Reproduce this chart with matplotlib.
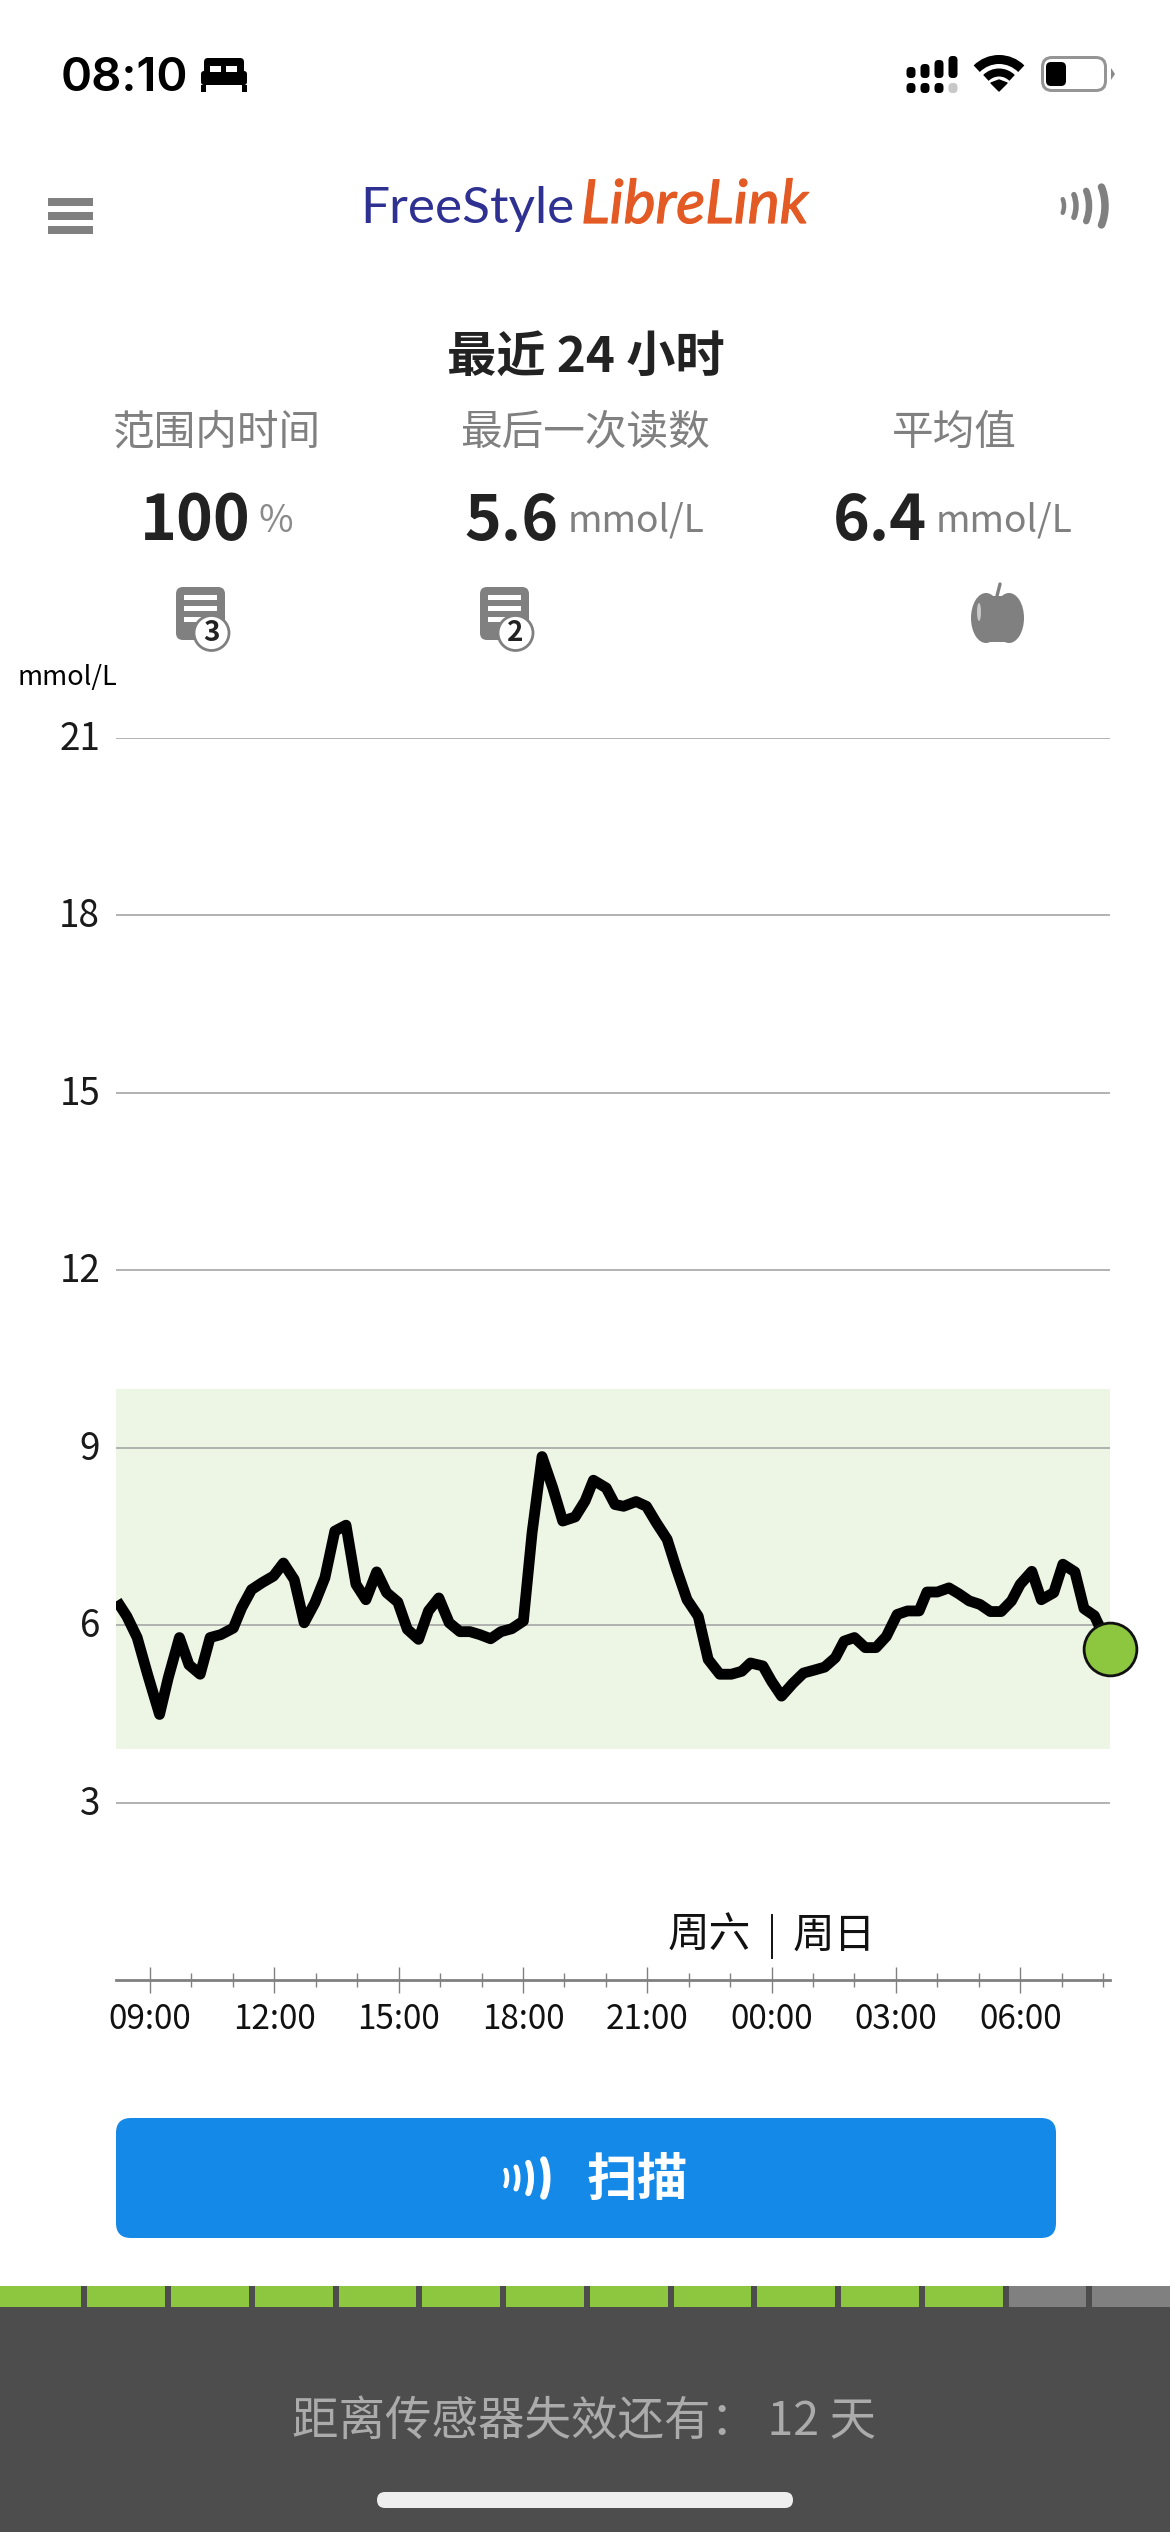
import matplotlib
matplotlib.use("Agg")
import matplotlib.pyplot as plt
import matplotlib.patheffects as pe
from matplotlib.patches import FancyBboxPatch, Rectangle, Circle, Arc, Ellipse, Polygon
from matplotlib.transforms import ScaledTranslation

plt.rcParams['font.family'] = ['Noto Sans CJK SC', 'DejaVu Sans']

# ---------- data ----------
hours = [8.20,8.44,8.69,8.94,9.23,9.44,9.71,9.94,10.21,10.45,10.71,11.01,11.21,11.45,11.71,11.98,
         12.22,12.48,12.72,12.98,13.22,13.46,13.73,13.97,14.21,14.47,14.71,14.98,15.21,15.48,15.72,15.97,
         16.22,16.48,16.72,16.96,17.22,17.47,17.73,18.01,18.22,18.46,18.72,18.96,19.26,19.50,19.70,20.01,20.22,
         20.43,20.73,20.98,21.22,21.48,21.71,21.96,22.23,22.47,22.75,23.03,23.28,23.49,23.79,24.00,24.24,24.52,
         24.77,25.03,25.28,25.54,25.75,26.00,26.26,26.52,26.77,27.03,27.28,27.56,27.75,28.00,28.28,28.52,28.77,
         29.03,29.28,29.54,29.79,30.00,30.28,30.51,30.81,31.03,31.32,31.54,31.79,32.17]
glucose = [6.41,6.15,5.79,5.17,4.49,5.11,5.79,5.33,5.17,5.79,5.84,5.95,6.29,6.60,6.72,6.83,
           7.05,6.77,6.04,6.38,6.80,7.59,7.69,6.69,6.43,6.90,6.55,6.39,5.93,5.76,6.24,6.46,
           6.04,5.89,5.89,5.84,5.77,5.89,5.94,6.07,7.56,8.85,8.32,7.76,7.83,8.10,8.45,8.32,8.04,
           8.01,8.09,8.01,7.73,7.45,6.94,6.43,6.15,5.42,5.17,5.17,5.22,5.36,5.31,5.05,4.80,5.02,
           5.19,5.24,5.29,5.45,5.73,5.79,5.62,5.62,5.81,6.18,6.24,6.24,6.56,6.56,6.63,6.53,6.41,
           6.35,6.23,6.23,6.41,6.69,6.91,6.43,6.55,7.03,6.90,6.28,6.16,5.60]
y_ticks = [3, 6, 9, 12, 15, 18, 21]
x_major = [9, 12, 15, 18, 21, 24, 27, 30]
x_minor = [10,11,13,14,16,17,19,20,22,23,25,26,28,29,31,32]
x_labels = ['09:00','12:00','15:00','18:00','21:00','00:00','03:00','06:00']
target_low, target_high = 3.9, 10
x_start, x_end = 8.167, 32.167
y_max = 21
sensor_days_total = 14
sensor_days_left = 12

W, H = 1170, 2532
GRAY = '#808080'
fig = plt.figure(figsize=(W/100, H/100), dpi=100, facecolor='white')
ui = fig.add_axes([0, 0, 1, 1], zorder=0)
ui.set_xlim(0, W); ui.set_ylim(H, 0); ui.axis('off')

def rrect(x0, y0, x1, y1, r, color, z=1):
    ui.add_patch(FancyBboxPatch((x0+r, y0+r), x1-x0-2*r, y1-y0-2*r,
                 boxstyle=f'round,pad={r},rounding_size={r}', fc=color, ec='none', zorder=z))

def waves(xs, hs, lws, cy, color):
    for xa, h, lw in zip(xs, hs, lws):
        b = h/1.73; a = b*0.5
        ui.add_patch(Arc((xa-a, cy), 2*a, 2*b, theta1=-60, theta2=60, color=color,
                         lw=lw*0.72, capstyle='round', zorder=3))

# ---------- status bar ----------
ui.text(61, 91, '08:10', family='Inter', fontsize=34, weight='semibold', color='black', va='baseline')
rrect(201, 71, 247, 85, 3, 'black')
rrect(204, 58, 244, 74, 4, 'black')
ui.add_patch(Rectangle((210, 66), 11, 6, fc='white', ec='none', zorder=2))
ui.add_patch(Rectangle((226, 66), 11, 6, fc='white', ec='none', zorder=2))
ui.add_patch(Rectangle((201, 85), 5, 7, fc='black', ec='none'))
ui.add_patch(Rectangle((242, 85), 5, 7, fc='black', ec='none'))
for xc, top in [(911, 67), (925, 64), (939, 60), (953, 56)]:
    rrect(xc-4.5, top, xc+4.5, 78, 4, 'black')
for xc, col in [(911, 'black'), (925, 'black'), (939, 'black'), (953, '#c8c8c8')]:
    rrect(xc-4.5, 83, xc+4.5, 93, 4, col)
ui.add_patch(Polygon([[999, 91], [991, 83], [999, 80], [1007, 83]], closed=True, fc='black', ec='black', lw=1, joinstyle='round'))
for r, lw in [(18.5, 8), (31.5, 9)]:
    ui.add_patch(Arc((999, 91), 2*r, 2*r, theta1=225, theta2=315, color='black', lw=lw*0.72, capstyle='butt'))
rrect(1041, 56, 1107, 92, 11, '#959595')
rrect(1044, 59, 1104, 89, 8, 'white', z=2)
rrect(1046, 62, 1066, 86, 5, 'black', z=3)
ui.add_patch(Polygon([[1111, 68], [1115, 74], [1111, 80]], closed=True, fc='#8a8a8a', ec='none'))

# ---------- header ----------
for y0 in (198, 212, 226):
    ui.add_patch(Rectangle((48, y0), 45, 8, fc=GRAY, ec='none'))
ui.text(360, 223, 'FreeStyle', family='Lato', fontsize=37, color='#2E3191', va='baseline')
ui.text(581, 223, 'LibreLink', family='Lato', style='italic', fontsize=43.5, color='#E35A24', va='baseline',
        path_effects=[pe.withStroke(linewidth=0.9, foreground='#E35A24')])
waves([1064, 1076, 1089, 1105], [18, 30, 40, 50], [4.5, 5.5, 6.5, 7.5], 206, GRAY)

ui.text(586, 357, '最近 24 小时', fontsize=35.5, weight='bold', color='#222222', ha='center', va='center')
for xc, s in [(217, '范围内时间'), (585, '最后一次读数'), (954, '平均值')]:
    ui.text(xc, 433, s, fontsize=30, color=GRAY, ha='center', va='center')
for x0, s in [(140, '100'), (464, '5.6'), (833, '6.4')]:
    ui.text(x0, 540, s, fontsize=45, weight='bold', color='#222222', va='baseline')
ui.text(259, 532, '%', fontsize=27, color='#8a8a8a', va='baseline', weight='light')
for x0 in (568, 936):
    ui.text(x0, 532, 'mmol/L', fontsize=26.8, color='#808080', va='baseline')

for x0, n in [(176, '3'), (480, '2')]:
    rrect(x0, 587, x0+49, 640, 7, GRAY)
    for yl in (597, 608, 619):
        ui.add_patch(Rectangle((x0+8, yl-2.5), 33, 5, fc='white', ec='none', zorder=2))
    ui.add_patch(Circle((x0+35.5, 633), 17.5, fc='white', ec='#808080', lw=2, zorder=3))
    ui.text(x0+35.5, 633, n, fontsize=20, weight='bold', color='#222222', ha='center', va='center', zorder=4)
ui.add_patch(Ellipse((986, 618), 30, 50, fc=GRAY, ec='none'))
ui.add_patch(Ellipse((1009, 618), 30, 50, fc=GRAY, ec='none'))
ui.add_patch(Rectangle((988, 596), 19, 46, fc=GRAY, ec='none'))
ui.plot([997, 1000], [596, 584], color=GRAY, lw=2.4, solid_capstyle='round')
ui.add_patch(Ellipse((979, 612), 4, 18, fc='#c9c9c9', ec='none', zorder=2))

ui.text(18, 678, 'mmol/L', fontsize=19.5, color='black', va='center')

# ---------- chart ----------
ax = fig.add_axes([115.5/W, 1-1980/H, (1110-115.5)/W, (1980-738)/H], zorder=1)
ax.patch.set_alpha(0)
ax.set_xlim(x_start, x_end); ax.set_ylim(0, y_max)
ax.axhspan(target_low, target_high, fc='#EDF5E4', ec='none', zorder=0)
ax.set_yticks(y_ticks)
ax.set_yticklabels([str(v) for v in y_ticks], fontsize=26.5, color='#1a1a1a')
ax.tick_params(axis='y', length=0, pad=11)
up = ScaledTranslation(0, 3/100, fig.dpi_scale_trans)
for lab in ax.get_yticklabels():
    lab.set_transform(lab.get_transform() + up)
ax.yaxis.grid(True, color='#a6a6a6', lw=1.2, zorder=1)
ax.set_axisbelow(True)
ax.set_xticks(x_major); ax.set_xticklabels(x_labels, fontsize=24, color='#111111')
ax.set_xticks(x_minor, minor=True)
ax.tick_params(axis='x', which='major', direction='inout', length=19, width=1, color=GRAY, pad=6.3)
ax.tick_params(axis='x', which='minor', direction='inout', length=9.5, width=1, color=GRAY)
for s in ('left', 'right', 'top'):
    ax.spines[s].set_visible(False)
ax.spines['bottom'].set_color(GRAY); ax.spines['bottom'].set_linewidth(2)
ax.plot(hours, glucose, color='black', lw=7.8, solid_joinstyle='round', solid_capstyle='butt', zorder=3)
ax.plot(hours[-1], glucose[-1], 'o', ms=38, mfc='#8DC63F', mec='#111111', mew=2, clip_on=False, zorder=4)

ui.text(709, 1936, '周六', fontsize=30, color='#111111', ha='center', va='center')
ui.text(834.5, 1936, '周日', fontsize=30, color='#111111', ha='center', va='center')
ui.plot([771.5, 771.5], [1915, 1958], color='#111111', lw=1.4)

# ---------- button ----------
rrect(116, 2118, 1056, 2238, 15, '#1589E8')
waves([507, 518, 531, 547], [21, 29, 40, 48], [4.5, 5, 6, 7], 2178, 'white')
ui.text(637, 2180, '扫描', fontsize=36.5, weight='bold', color='white', ha='center', va='center', zorder=3)

# ---------- sensor bar ----------
ui.add_patch(Rectangle((0, 2286), W, H-2286, fc='#4D4D4D', ec='none'))
period = 83.75
for i in range(sensor_days_total):
    x0 = 3.5 + i*period
    x1 = x0 + period - 6
    col = '#8DC63F' if i < sensor_days_left else GRAY
    ui.add_patch(Rectangle((0 if i == 0 else x0, 2286), x1 - (0 if i == 0 else x0), 21, fc=col, ec='none', zorder=2))
ui.text(584, 2422, '距离传感器失效还有： 12 天', fontsize=33.5, color='#ABABAB', ha='center', va='center')
rrect(377, 2492, 793, 2508, 8, '#EEEEEE')

fig.savefig('out.png', dpi=100, facecolor='white')
